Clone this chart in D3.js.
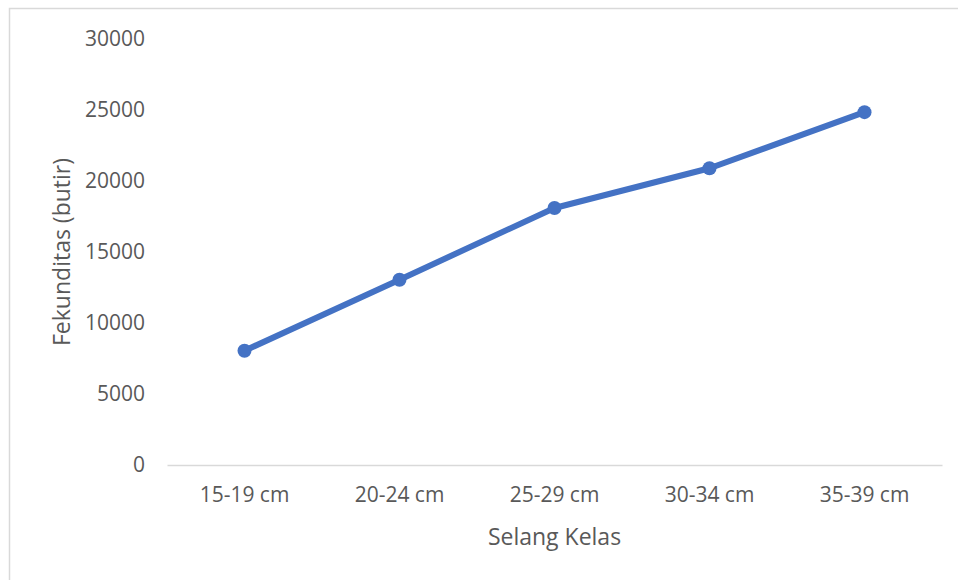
<!DOCTYPE html>
<html>
<head>
<meta charset="utf-8">
<script src="https://cdn.jsdelivr.net/npm/d3@7"></script>
<style>
  body { margin: 0; background: #fff; }
  text { font-family: 'Open Sans', sans-serif; fill: #595959; }
</style>
</head>
<body>
<div class="chart"></div>
<script>
// chart data
const categories = ['15-19 cm', '20-24 cm', '25-29 cm', '30-34 cm', '35-39 cm'];
const values = [8050, 13050, 18100, 20900, 24850];
const yTicks = [0, 5000, 10000, 15000, 20000, 25000, 30000];

const width = 958, height = 580;
const margin = { top: 39, right: 16, bottom: 115, left: 167 };

const svg = d3.select('.chart')
  .append('svg')
  .attr('width', width)
  .attr('height', height);

// outer chart border (only top/left visible in the crop)
svg.append('rect')
  .attr('x', 9.5)
  .attr('y', 8.5)
  .attr('width', 1000)
  .attr('height', 1000)
  .attr('fill', 'none')
  .attr('stroke', '#d9d9d9')
  .attr('stroke-width', 1.5);

const x = d3.scaleBand()
  .domain(categories)
  .range([margin.left, width - margin.right]);

const y = d3.scaleLinear()
  .domain([0, 30000])
  .range([height - margin.bottom, margin.top]);

// y axis labels, no line
const yAxis = svg.append('g')
  .attr('transform', 'translate(' + (margin.left - 22) + ',0)')
  .call(d3.axisLeft(y).tickValues(yTicks).tickFormat(d3.format('d')).tickSize(0).tickPadding(0));
yAxis.select('.domain').remove();
yAxis.selectAll('text')
  .style('font-size', '21px')
  .style('font-family', "'Open Sans', sans-serif")
  .attr('fill', '#595959');

// x axis baseline + labels
const xAxis = svg.append('g')
  .attr('transform', 'translate(0,' + y(0) + ')')
  .call(d3.axisBottom(x).tickSize(0).tickPadding(22));
xAxis.select('.domain')
  .attr('stroke', '#d9d9d9')
  .attr('stroke-width', 1.5);
xAxis.selectAll('text')
  .style('font-size', '21px')
  .style('font-family', "'Open Sans', sans-serif")
  .attr('fill', '#595959');

// line
const line = d3.line()
  .x((d, i) => x(categories[i]) + x.bandwidth() / 2)
  .y(d => y(d));

svg.append('path')
  .datum(values)
  .attr('d', line)
  .attr('fill', 'none')
  .attr('stroke', '#4472c4')
  .attr('stroke-width', 6)
  .attr('stroke-linejoin', 'round')
  .attr('stroke-linecap', 'round');

svg.selectAll('.dot')
  .data(values)
  .enter().append('circle')
  .attr('class', 'dot')
  .attr('cx', (d, i) => x(categories[i]) + x.bandwidth() / 2)
  .attr('cy', d => y(d))
  .attr('r', 7)
  .attr('fill', '#4472c4');

// axis titles
svg.append('text')
  .attr('x', (margin.left + width - margin.right) / 2)
  .attr('y', 537)
  .attr('dy', '0.35em')
  .attr('text-anchor', 'middle')
  .style('font-size', '23px')
  .text('Selang Kelas');

svg.append('text')
  .attr('transform', 'translate(62,' + 252 + ') rotate(-90)')
  .attr('dy', '0.35em')
  .attr('text-anchor', 'middle')
  .style('font-size', '23px')
  .text('Fekunditas (butir)');
</script>
</body>
</html>
